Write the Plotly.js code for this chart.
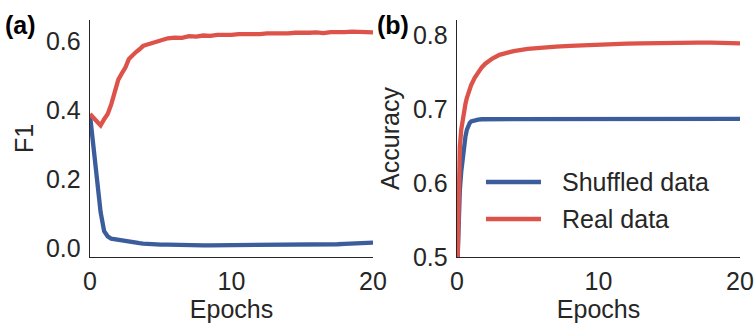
<!DOCTYPE html>
<html>
<head>
<meta charset="utf-8">
<script src="https://cdn.plot.ly/plotly-3.0.1.min.js"></script>
<style>html,body{margin:0;padding:0;background:#fff;}#chart{width:756px;height:325px;}</style>
</head>
<body>
<div id="chart"></div>
<script>
// ---- data ----
const f1Epochs = [0, 0.25, 0.5, 0.75, 1.0, 1.25, 1.5, 1.75, 2.0, 2.25, 2.5, 2.75, 3.0, 3.25, 3.5, 3.75, 4.0, 4.5, 5.0, 5.5, 6.0, 6.5, 7.0, 7.5, 8.0, 8.5, 9, 9.5, 10, 10.5, 11, 11.5, 12, 12.5, 13, 13.5, 14, 14.5, 15, 15.5, 16, 16.5, 17, 17.5, 18, 18.5, 19, 19.5, 20];
const f1Real = [0.39, 0.378, 0.365, 0.357, 0.375, 0.39, 0.418, 0.455, 0.49, 0.508, 0.525, 0.55, 0.562, 0.57, 0.578, 0.588, 0.591, 0.598, 0.603, 0.61, 0.612, 0.611, 0.616, 0.615, 0.618, 0.617, 0.62, 0.619, 0.62, 0.622, 0.621, 0.623, 0.622, 0.624, 0.623, 0.625, 0.624, 0.626, 0.625, 0.626, 0.627, 0.625, 0.628, 0.627, 0.628, 0.629, 0.63, 0.628, 0.627];
const f1Shuffled = [0.387, 0.30, 0.21, 0.105, 0.05, 0.035, 0.028, 0.026, 0.024, 0.022, 0.02, 0.018, 0.017, 0.016, 0.015, 0.014, 0.013, 0.012, 0.011, 0.011, 0.01, 0.01, 0.009, 0.009, 0.009, 0.009, 0.009, 0.009, 0.009, 0.009, 0.009, 0.009, 0.009, 0.009, 0.009, 0.009, 0.009, 0.009, 0.009, 0.009, 0.009, 0.01, 0.011, 0.012, 0.013, 0.014, 0.015, 0.016, 0.017];

const accEpochs = [0.05, 0.1, 0.15, 0.2, 0.3, 0.4, 0.5, 0.6, 0.7, 0.8, 0.9, 1.0, 1.25, 1.5, 1.75, 2.0, 2.5, 3, 3.5, 4, 5, 6, 7, 8, 9, 10, 11, 12, 13, 14, 15, 16, 17, 18, 19, 20];
const accReal = [0.5, 0.585, 0.625, 0.648, 0.672, 0.687, 0.698, 0.707, 0.715, 0.721, 0.727, 0.732, 0.742, 0.75, 0.756, 0.761, 0.768, 0.773, 0.776, 0.778, 0.781, 0.783, 0.784, 0.785, 0.786, 0.787, 0.7875, 0.788, 0.7885, 0.789, 0.789, 0.7895, 0.7895, 0.7895, 0.789, 0.7885];
const accShuffled = [0.5, 0.54, 0.57, 0.59, 0.615, 0.635, 0.65, 0.663, 0.672, 0.678, 0.681, 0.683, 0.685, 0.6855, 0.686, 0.686, 0.6865, 0.6865, 0.6865, 0.6865, 0.6865, 0.6865, 0.6865, 0.6865, 0.6865, 0.6865, 0.6865, 0.6865, 0.6865, 0.6865, 0.6865, 0.6865, 0.6865, 0.6865, 0.6865, 0.6865];

const xTicks = [0, 10, 20];
const f1Ticks = [0.0, 0.2, 0.4, 0.6];
const f1TickText = ['0.0', '0.2', '0.4', '0.6'];
const accTicks = [0.5, 0.6, 0.7, 0.8];
const accTickText = ['0.5', '0.6', '0.7', '0.8'];
const seriesNames = ['Shuffled data', 'Real data'];
const panelLabels = ['(a)', '(b)'];

// ---- style ----
const BLUE = '#3b5d9c';
const RED = '#dd5349';
const TXT = '#262626';
const FONT = 'Liberation Sans, Arial, sans-serif';
const FS = 25;

const traces = [
  {x: f1Epochs, y: f1Shuffled, xaxis: 'x', yaxis: 'y', mode: 'lines', name: seriesNames[0], line: {color: BLUE, width: 4.3}, showlegend: false},
  {x: f1Epochs, y: f1Real, xaxis: 'x', yaxis: 'y', mode: 'lines', name: seriesNames[1], line: {color: RED, width: 4.3}, showlegend: false},
  {x: accEpochs, y: accShuffled, xaxis: 'x2', yaxis: 'y2', mode: 'lines', name: seriesNames[0], line: {color: BLUE, width: 4.3}, showlegend: false},
  {x: accEpochs, y: accReal, xaxis: 'x2', yaxis: 'y2', mode: 'lines', name: seriesNames[1], line: {color: RED, width: 4.3}, showlegend: false}
];

function xax(domain, anchor) {
  return {
    domain: domain, anchor: anchor, range: [0, 20], tickvals: xTicks,
    showgrid: false, zeroline: false, showline: true, linecolor: TXT, linewidth: 1.3,
    ticks: '', ticklabelstandoff: 2,
    tickfont: {family: FONT, size: FS, color: TXT},
    title: {text: 'Epochs', font: {family: FONT, size: FS, color: TXT}, standoff: 4}
  };
}
function yax(domain, anchor, range, tv, tt, title, standoff) {
  return {
    domain: domain, anchor: anchor, range: range, tickvals: tv, ticktext: tt,
    showgrid: false, zeroline: false, showline: true, linecolor: TXT, linewidth: 1.3,
    ticks: '', ticklabelstandoff: 3,
    tickfont: {family: FONT, size: FS, color: TXT},
    title: {text: title, font: {family: FONT, size: FS, color: TXT}, standoff: standoff}
  };
}

const layout = {
  width: 756, height: 325,
  margin: {l: 90, r: 16, t: 20, b: 68},
  paper_bgcolor: '#fff', plot_bgcolor: '#fff',
  showlegend: false,
  xaxis: xax([0, 0.4354], 'y'),
  yaxis: yax([0, 1], 'x', [-0.025, 0.663], f1Ticks, f1TickText, 'F1', 5),
  xaxis2: xax([0.5646, 1], 'y2'),
  yaxis2: yax([0, 1], 'x2', [0.5, 0.82], accTicks, accTickText, 'Accuracy', 6),
  annotations: [
    {text: '<b>' + panelLabels[0] + '</b>', xref: 'paper', yref: 'paper', x: -0.134, y: 0.978, xanchor: 'left', yanchor: 'middle', showarrow: false, font: {family: FONT, size: FS, color: '#000'}},
    {text: '<b>' + panelLabels[1] + '</b>', xref: 'paper', yref: 'paper', x: 0.4385, y: 0.978, xanchor: 'left', yanchor: 'middle', showarrow: false, font: {family: FONT, size: FS, color: '#000'}},
    {text: seriesNames[0], xref: 'paper', yref: 'paper', x: 0.7235, y: 0.3165, xanchor: 'left', yanchor: 'middle', showarrow: false, font: {family: FONT, size: FS, color: TXT}},
    {text: seriesNames[1], xref: 'paper', yref: 'paper', x: 0.7235, y: 0.1603, xanchor: 'left', yanchor: 'middle', showarrow: false, font: {family: FONT, size: FS, color: TXT}}
  ],
  shapes: [
    {type: 'line', xref: 'paper', yref: 'paper', x0: 0.6092, x1: 0.6938, y0: 0.3165, y1: 0.3165, line: {color: BLUE, width: 4.3}},
    {type: 'line', xref: 'paper', yref: 'paper', x0: 0.6092, x1: 0.6938, y0: 0.1603, y1: 0.1603, line: {color: RED, width: 4.3}}
  ]
};

Plotly.newPlot('chart', traces, layout, {displayModeBar: false, staticPlot: true});
</script>
</body>
</html>
